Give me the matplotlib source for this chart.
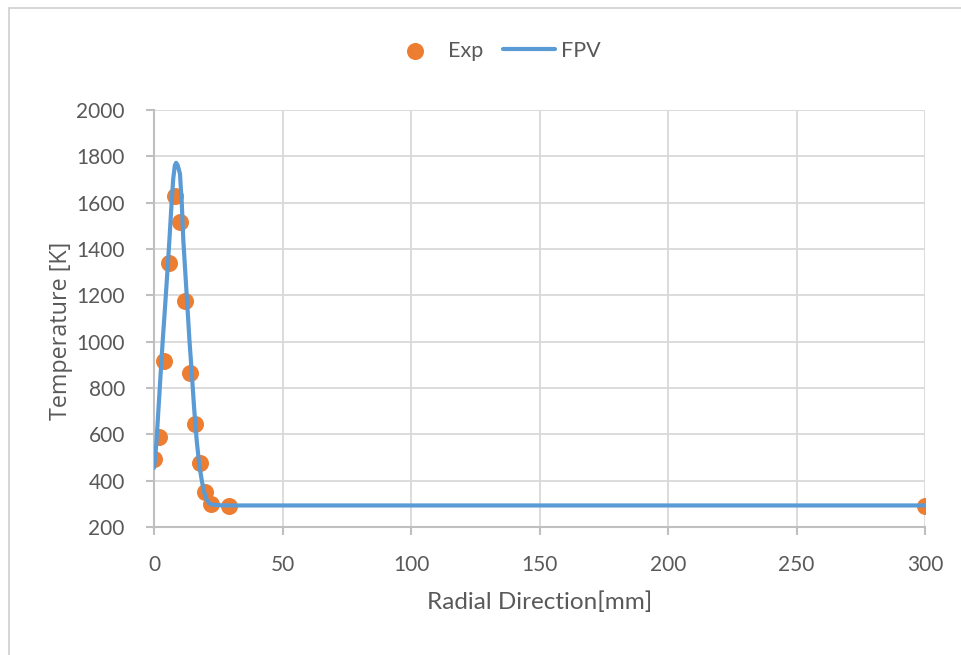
import matplotlib.pyplot as plt
from matplotlib.patches import Rectangle

# experimental temperatures along the radius
exp_r = [0, 2, 4, 6, 8, 10, 12, 14, 16, 18, 20, 22, 29, 300]
exp_t = [495, 590, 915, 1340, 1630, 1515, 1175, 865, 645, 475, 350, 300, 290, 290]

# FPV model profile
fpv_r = [0, 0.5, 1.0, 1.8, 2.6, 3.4, 4.3, 5.2, 6.0, 6.8, 7.5, 8.1, 8.6, 9.2,
         10.1, 10.8, 11.4, 12.2, 13.0, 13.8, 14.7, 15.6, 16.6, 17.6, 18.6,
         19.5, 20.5, 21.5, 22.4, 25, 30, 100, 200, 300]
fpv_t = [455, 505, 575, 720, 865, 1005, 1150, 1300, 1440, 1590, 1705, 1760,
         1772, 1762, 1725, 1600, 1440, 1295, 1150, 1005, 865, 715, 575, 470,
         400, 350, 318, 302, 297, 294, 293, 293, 293, 293]

x_ticks = [0, 50, 100, 150, 200, 250, 300]
y_ticks = list(range(200, 2001, 200))

TXT = "#595959"
GRID = "#d9d9d9"
plt.rcParams["font.family"] = ["Lato", "DejaVu Sans"]

fig = plt.figure(figsize=(9.61, 6.55), dpi=100)
fig.patches.append(Rectangle((9 / 961, -0.1), 1.1, 1.1 - 8 / 655,
                             transform=fig.transFigure, fill=False,
                             edgecolor="#d0d0d0", linewidth=1.2))
ax = fig.add_axes([154 / 961, 1 - 527 / 655, (925 - 154) / 961, (527 - 110) / 655])

ax.plot(fpv_r, fpv_t, color="#5b9bd5", linewidth=3, label="FPV", zorder=3,
        solid_capstyle="round", solid_joinstyle="round")
ax.scatter(exp_r, exp_t, s=150, color="#ed7d31", label="Exp", zorder=2,
           linewidths=0)

ax.set_xlim(0, 300)
ax.set_ylim(200, 2000)
ax.set_xticks(x_ticks)
ax.set_yticks(y_ticks)
ax.grid(True, color=GRID, linewidth=1.3)
ax.set_axisbelow(True)
for s in ["top", "right"]:
    ax.spines[s].set_visible(False)
for s in ["left", "bottom"]:
    ax.spines[s].set_color("#bfbfbf")
    ax.spines[s].set_linewidth(1.5)
ax.tick_params(colors="#bfbfbf", labelcolor=TXT, labelsize=15, length=6, width=1.5)
ax.tick_params(axis="x", pad=14)
ax.tick_params(axis="y", pad=15)

ax.set_xlabel("Radial Direction[mm]", color=TXT, fontsize=17.5, labelpad=12)
ax.set_ylabel("Temperature [K]", color=TXT, fontsize=16.8,
              family=["Open Sans", "DejaVu Sans"])
ax.yaxis.set_label_coords(-0.105, 0.47)

h, l = ax.get_legend_handles_labels()
fig.legend(h[::-1], l[::-1], loc="center", bbox_to_anchor=(495 / 961, 1 - 51 / 655),
           ncol=2, frameon=False, fontsize=15.5, labelcolor=TXT,
           handlelength=2.42, columnspacing=0.93, handletextpad=0.3)

fig.savefig("out.png", dpi=100)
